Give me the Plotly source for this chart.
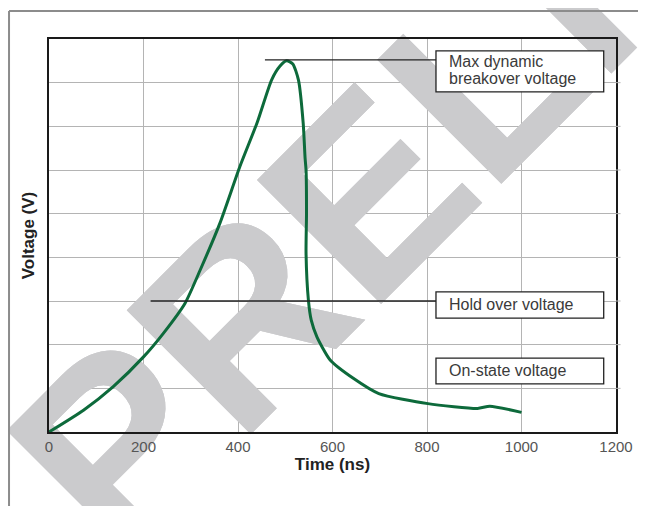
import plotly.graph_objects as go

# ---- data ----
time_ns = [0, 73, 136, 200, 242, 288, 320, 362, 404, 441, 471, 489, 503,
           516, 528, 538, 542, 544, 545, 544, 549, 555, 567, 595, 644, 698,
           802, 907, 933, 1000]
voltage = [0, 0.50, 1.04, 1.72, 2.26, 2.95, 3.71, 4.79, 6.08, 7.10, 8.06, 8.38, 8.50,
           8.43, 8.06, 7.07, 6.27, 6.00, 5.01, 4.10, 3.02, 2.56, 2.18, 1.65, 1.23, 0.88,
           0.65, 0.54, 0.59, 0.45]

x_ticks = [0, 200, 400, 600, 800, 1000, 1200]
y_grid = [0, 1, 2, 3, 4, 5, 6, 7, 8, 9]

peak_v = 8.52
hold_v = 3.0
labels = ["Max dynamic", "breakover voltage", "Hold over voltage", "On-state voltage"]

X_RANGE = [0, 1200]
Y_RANGE = [0, 9]

fig = go.Figure()
fig.add_trace(go.Scatter(x=time_ns, y=voltage, mode="lines",
                         line=dict(color="#0d6a3b", width=3, shape="spline", smoothing=0.6),
                         hoverinfo="skip", showlegend=False))

shapes = []
# watermark: a lower copy (paper refs, shows outside plot) and a between copy (covers grid)
wm_cx, wm_cy = 1286, 12.89
wm_font = dict(family="Liberation Sans, Arial, sans-serif", size=255, color="#cbcbcd")
wm_text = "<b>PRELIMINARY</b>"
shapes.append(dict(type="rect", xref="paper", yref="paper",
                   x0=(wm_cx - 5) / X_RANGE[1], x1=(wm_cx + 5) / X_RANGE[1],
                   y0=(wm_cy - 0.05) / Y_RANGE[1], y1=(wm_cy + 0.05) / Y_RANGE[1],
                   line=dict(width=0), fillcolor="rgba(0,0,0,0)", layer="below",
                   label=dict(text=wm_text, font=wm_font, textangle=-45,
                              textposition="middle center")))
shapes.append(dict(type="rect", xref="x", yref="y",
                   x0=wm_cx - 5, x1=wm_cx + 5, y0=wm_cy - 0.05, y1=wm_cy + 0.05,
                   line=dict(width=0), fillcolor="rgba(0,0,0,0)", layer="between",
                   label=dict(text=wm_text, font=wm_font, textangle=-45,
                              textposition="middle center")))

# small tick stubs on the right edge
for yv in y_grid[1:-1]:
    shapes.append(dict(type="line", xref="paper", yref="y", x0=1.0, x1=1.008, y0=yv, y1=yv,
                       line=dict(color="#b4b4b4", width=1), layer="above"))

# outer frame
shapes.append(dict(type="line", xref="paper", yref="paper", x0=-0.0705, x1=-0.0705,
                   y0=-0.2, y1=1.0712, line=dict(color="#8c8c8c", width=2), layer="above"))
shapes.append(dict(type="line", xref="paper", yref="paper", x0=-0.0705, x1=1.06,
                   y0=1.0712, y1=1.0712, line=dict(color="#8c8c8c", width=2), layer="above"))

box_x0, box_x1 = 819, 1174
# leader lines
shapes.append(dict(type="line", xref="x", yref="y", x0=457, x1=box_x0, y0=peak_v, y1=peak_v,
                   line=dict(color="#222222", width=1.3), layer="above"))
shapes.append(dict(type="line", xref="x", yref="y", x0=215, x1=box_x0, y0=hold_v, y1=hold_v,
                   line=dict(color="#222222", width=1.3), layer="above"))
# boxes
for (y0, y1) in [(7.79, 8.73), (2.61, 3.21), (1.10, 1.69)]:
    shapes.append(dict(type="rect", xref="x", yref="y", x0=box_x0, x1=box_x1, y0=y0, y1=y1,
                       line=dict(color="#222222", width=1.3), fillcolor="white", layer="above"))

ann_font = dict(family="Liberation Sans, Arial, sans-serif", size=16, color="#3a3a3a")
annotations = []
for txt, yy in zip(labels, [8.49, 8.10, 2.91, 1.40]):
    annotations.append(dict(x=box_x0, y=yy, xref="x", yref="y", text=txt, showarrow=False,
                            xanchor="left", yanchor="middle", xshift=11, font=ann_font))

fig.update_layout(
    width=638, height=498,
    margin=dict(l=41, r=30, t=31, b=74),
    paper_bgcolor="white", plot_bgcolor="rgba(0,0,0,0)",
    shapes=shapes, annotations=annotations,
    font=dict(family="Liberation Sans, Arial, sans-serif"),
    xaxis=dict(range=X_RANGE, tickvals=x_ticks, ticktext=[str(v) for v in x_ticks],
               showgrid=True, gridcolor="#b4b4b4", gridwidth=1,
               showline=True, linecolor="#1a1a1a", linewidth=1.5, mirror=True,
               ticks="", tickfont=dict(size=15, color="#555555"), zeroline=False,
               title=dict(text="<b>Time (ns)</b>", font=dict(size=17, color="#222222"), standoff=3)),
    yaxis=dict(range=Y_RANGE, tickvals=y_grid, showticklabels=False,
               showgrid=True, gridcolor="#b4b4b4", gridwidth=1,
               showline=True, linecolor="#1a1a1a", linewidth=1.5, mirror=True,
               ticks="", zeroline=False,
               title=dict(text="<b>Voltage (V)</b>", font=dict(size=17, color="#222222"), standoff=8)),
)

fig.write_html("out.html")
